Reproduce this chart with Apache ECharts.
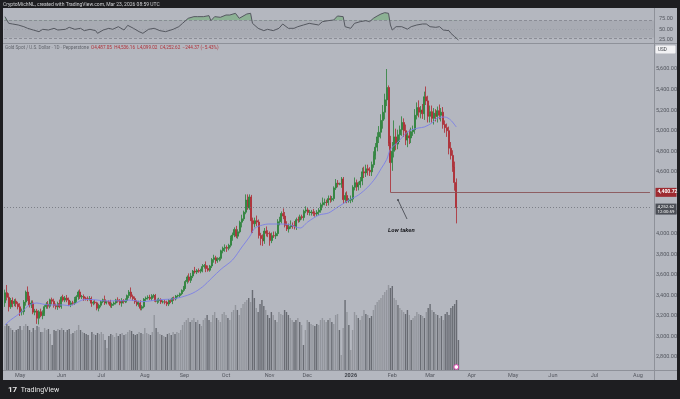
<!DOCTYPE html>
<html>
<head>
<meta charset="utf-8">
<script src="https://cdn.jsdelivr.net/npm/echarts@6/dist/echarts.min.js"></script>
<style>
html,body{margin:0;padding:0;background:#1e1e21;}
#chart{width:680px;height:399px;}
</style>
</head>
<body>
<div id="chart"></div>
<script>
// daily closes, Apr 21 2025 .. Mar 23 2026 (opens follow the previous close)
var firstOpen = 3327;
var closes = [
	3425,3380,3288,3349,3319,3343,3317,3288,3239,3241,
	3334,3431,3365,3306,3325,3236,3248,3177,3240,3202,
	3229,3289,3314,3294,3357,3342,3300,3288,3318,3289,
	3381,3353,3373,3353,3310,3326,3323,3354,3386,3432,
	3384,3388,3370,3369,3368,3368,3323,3333,3327,3274,
	3303,3338,3357,3326,3337,3336,3301,3313,3325,3355,
	3343,3324,3347,3339,3350,3397,3431,3387,3368,3337,
	3314,3326,3274,3289,3363,3373,3380,3368,3396,3398,
	3342,3348,3356,3335,3336,3332,3315,3348,3339,3372,
	3365,3393,3397,3416,3448,3476,3533,3578,3545,3587,
	3636,3626,3641,3634,3643,3679,3689,3660,3644,3685,
	3747,3764,3736,3749,3759,3833,3858,3865,3857,3886,
	3960,3985,4040,3975,4017,4110,4143,4208,4326,4251,
	4356,4125,4095,4125,4112,3982,3952,3930,4024,4002,
	4000,3932,3980,3977,4000,4115,4128,4195,4170,4080,
	4045,4067,4078,4077,4065,4135,4131,4164,4156,4218,
	4230,4205,4205,4210,4197,4190,4208,4228,4280,4300,
	4305,4303,4340,4330,4340,4444,4490,4480,4485,4530,
	4330,4370,4320,4325,4335,4450,4495,4455,4475,4510,
	4600,4590,4630,4615,4600,4670,4760,4840,4940,4985,
	5100,5180,5300,5420,4880,4690,4800,4940,4870,4960,
	5010,5080,5000,4910,4950,4930,4990,5010,5150,5225,
	5180,5200,5165,5330,5290,5140,5185,5120,5170,5140,
	5195,5150,5180,5060,5030,5000,4830,4760,4650,4496.99,
	4252.62
];
var upperWick = [
	30,75,40,25,30,20,25,20,35,30,
	20,15,55,30,25,25,20,20,15,30,
	25,15,20,30,10,20,25,20,20,40,
	10,25,20,30,25,20,20,30,15,15,
	25,15,20,15,20,25,20,15,20,10,
	15,15,10,40,10,15,20,15,15,10,
	25,20,25,15,20,10,20,45,20,20,
	15,20,25,15,10,15,20,25,15,15,
	15,20,20,15,15,20,15,15,15,10,
	15,10,10,10,10,15,15,15,35,30,
	10,40,15,20,15,25,15,40,30,10,
	15,30,20,20,15,10,15,30,20,15,
	20,25,20,35,25,15,40,15,55,55,
	25,20,30,30,50,25,25,40,30,45,
	30,20,30,40,20,25,35,20,50,40,
	40,30,50,30,45,20,30,20,20,15,
	35,20,25,20,30,20,20,20,20,50,
	35,25,30,30,25,15,40,30,10,20,
	20,30,40,20,35,20,50,30,30,40,
	40,50,40,40,30,30,40,40,45,60,
	60,70,60,180,20,70,90,160,80,50,
	40,60,40,60,40,60,40,40,60,50,
	70,40,60,50,100,50,60,60,50,40,
	40,60,40,50,40,40,40,60,50,50,
	39.17
];
var lowerWick = [
	40,30,45,20,35,25,30,25,40,35,
	30,35,20,25,30,20,30,55,60,15,
	35,30,20,25,20,30,20,25,30,15,
	20,15,20,20,15,25,20,15,25,30,
	20,20,25,20,25,20,35,20,15,20,
	30,20,15,20,15,25,20,25,15,15,
	15,20,35,20,15,20,25,20,20,20,
	20,25,20,20,15,20,15,15,20,20,
	10,25,20,20,15,20,20,20,15,25,
	20,15,15,20,15,15,15,20,20,25,
	20,15,20,15,20,20,20,35,15,15,
	20,30,30,20,20,20,25,35,35,20,
	20,30,20,20,25,15,50,20,20,20,
	20,121,90,35,40,30,66,50,30,30,
	35,50,25,20,30,25,35,30,30,20,
	20,35,20,30,25,30,25,20,20,30,
	20,25,30,30,25,25,20,30,25,20,
	25,35,30,30,20,25,20,30,10,40,
	40,30,25,20,30,30,30,40,35,30,
	40,50,40,50,40,40,30,40,40,60,
	60,80,70,60,30,289.28,80,60,60,50,
	70,60,60,50,70,60,50,40,40,40,
	50,60,50,60,40,60,60,40,60,50,
	60,40,60,40,50,60,60,40,50,80,
	153.6
];
var volumes = [
	44,46,44,42,40,38,40,41,44,40,
	44,46,44,40,38,42,40,44,43,38,
	38,42,40,41,36,25,40,39,41,40,
	42,40,38,40,41,36,37,39,40,45,
	40,38,37,36,35,30,38,36,35,37,
	36,38,36,30,22,34,36,35,33,37,
	34,36,37,35,36,38,40,39,36,35,
	36,38,37,36,42,37,36,35,38,55,
	42,38,36,35,34,33,36,37,35,38,
	36,38,37,40,45,48,50,52,48,50,
	52,48,50,46,44,50,52,55,50,48,
	55,58,52,50,48,56,58,55,52,50,
	58,60,65,60,55,62,66,68,70,72,
	68,80,72,62,58,66,70,64,60,55,
	52,58,55,50,48,58,56,55,60,58,
	55,52,50,48,50,52,48,45,25,40,
	50,48,46,45,44,46,45,50,52,50,
	48,50,52,48,46,55,56,40,15,42,
	70,58,45,20,40,58,55,52,50,54,
	60,56,55,52,54,60,65,68,70,72,
	75,78,80,85,82,84,72,70,65,62,
	60,58,56,60,55,50,52,54,58,56,
	55,54,52,58,62,66,60,58,56,55,
	52,54,50,56,58,55,62,64,66,70,
	30
];
// moving average: [bar index, value]
var maPoints = [
	[0,3111],[3,3160],[6,3199],[10,3257],[13,3306],[17,3325],[20,3315],[24,3306],[27,3306],
	[31,3306],[34,3299],[38,3325],[41,3354],[45,3360],[49,3354],[52,3347],[56,3345],[59,3347],
	[63,3347],[66,3354],[70,3345],[73,3338],[77,3345],[81,3354],[85,3360],[89,3364],[94,3383],
	[100,3422],[105,3481],[110,3568],[115,3655],[121,3743],[126,3869],[130,3967],[133,4054],
	[137,4083],[140,4093],[146,4093],[151,4088],[157,4054],[161,4113],[167,4180],[172,4200],
	[177,4258],[183,4326],[188,4375],[193,4453],[197,4540],[200,4630],[203,4720],[205,4820],
	[209,4890],[213,4970],[216,5007],[220,5027],[223,5036],[227,5075],[230,5124],[234,5133],
	[237,5104],[240,5036]
];
// RSI: [bar index, value]
var rsiPoints = [
	[0,78.8],[2,63.4],[4,61.9],[7,59.6],[10,55.7],[12,51.9],[15,48],[18,44.2],[20,49.6],[23,48],
	[26,51.9],[28,48],[32,49.6],[34,54.2],[37,49.6],[40,51.9],[42,46.5],[45,49.6],[48,46.5],[49,40.4],
	[52,48],[55,51.9],[57,49.6],[60,55.7],[63,48],[65,58.8],[68,51.9],[71,44.2],[73,40.4],[76,49.6],
	[79,51.9],[82,46.5],[85,44.2],[86,44.2],[89,49.6],[92,55.7],[94,63.4],[97,75],[100,78.8],[102,78.8],
	[105,78.8],[108,81.1],[109,69.5],[111,78.8],[114,77.3],[117,82.6],[119,82.6],[122,86.5],[124,75],
	[125,78.8],[128,84.9],[130,86.5],[131,63.4],[134,51.9],[137,46.5],[139,49.6],[142,46.5],[145,51.9],
	[147,61.9],[150,51.9],[153,51.9],[155,55.7],[158,59.6],[161,63.4],[163,61.9],[166,59.6],[168,67.2],
	[171,69.5],[174,71.1],[176,80.3],[177,82.6],[179,78.8],[180,55.7],[183,51.9],[185,63.4],[188,67.2],
	[191,69.5],[193,67.2],[195,75],[197,80.3],[199,84.9],[201,88],[203,86.5],[204,59.6],[205,48],
	[207,55.7],[208,51.9],[210,55.7],[213,50],[215,55.7],[218,59.6],[221,61.9],[223,61.9],[225,55.7],
	[228,54.2],[230,55.7],[232,48],[235,46.5],[236,40.4],[238,32.7],[240,25]
];
var timeLabels = ['May','Jun','Jul','Aug','Sep','Oct','Nov','Dec','2026','Feb','Mar','Apr','May','Jun','Jul','Aug'];
var priceTicks = [2800,3000,3200,3400,3600,3800,4000,4200,4400,4600,4800,5000,5200,5400,5600];
var rsiTicks = [25,50,75];
var lowLevel = 4400.72, lowIndex = 205;
var lastPrice = 4252.62, lastTimer = '12:00:59';

var upColor = '#2a8237', downColor = '#ad2830';
var bgColor = '#b4b7bf', sepColor = '#8e9199', axisText = '#54575f';
var font = 'Roboto, "DejaVu Sans", sans-serif';

// weekday slots, data + empty future space
var dates = [];
var d = new Date(Date.UTC(2025, 3, 21));
while (dates.length < 344) {
	var wd = d.getUTCDay();
	if (wd !== 0 && wd !== 6) dates.push(d.toISOString().slice(0, 10));
	d.setUTCDate(d.getUTCDate() + 1);
}
var monthStart = {};
var k = 0;
for (var i = 1; i < dates.length; i++) {
	if (dates[i].slice(5, 7) !== dates[i - 1].slice(5, 7)) monthStart[i] = timeLabels[k++];
}

var candles = [], vols = [];
var prev = firstOpen;
for (var i = 0; i < closes.length; i++) {
	var o = prev, c = closes[i];
	candles.push([o, c, Math.min(o, c) - lowerWick[i], Math.max(o, c) + upperWick[i]]);
	vols.push({value: volumes[i], itemStyle: {color: c >= o ? '#93969d' : '#696c73'}});
	prev = c;
}

function fmt(v) {
	return v.toLocaleString('en-US', {minimumFractionDigits: 2, maximumFractionDigits: 2});
}

var myChart = echarts.init(document.getElementById('chart'));
var gridL = 4, gridR = 26;
var hidden = {show: false};
function xCat(gi, showLabels) {
	return {
		type: 'category', gridIndex: gi, data: dates, boundaryGap: true,
		axisLine: hidden, axisTick: hidden, splitLine: hidden,
		axisLabel: showLabels ? {
			show: true, margin: 3, fontSize: 5.5, color: axisText, fontFamily: font,
			interval: function(idx) { return monthStart[idx] !== undefined; },
			formatter: function(v, idx) {
				var t = monthStart[idx] || '';
				return t === '2026' ? '{b|2026}' : t;
			},
			rich: {b: {fontWeight: 'bold', fontSize: 5.5, color: '#3f4249', fontFamily: font}}
		} : hidden
	};
}

var option = {
	backgroundColor: '#1e1e21',
	animation: false,
	grid: [
		{left: gridL, right: gridR, top: 7.45, height: 43.4},
		{left: gridL, right: gridR, top: 27.86, height: 349.71},
		{left: gridL, right: gridR, top: 270, height: 100}
	],
	xAxis: [xCat(0, false), xCat(1, false), xCat(2, true)],
	yAxis: [
		{
			type: 'value', gridIndex: 0, min: 0, max: 100, interval: 25, position: 'right',
			axisLine: hidden, axisTick: hidden, splitLine: hidden,
			axisLabel: {
				margin: 5, fontSize: 5.5, color: axisText, fontFamily: font,
				formatter: function(v) { return rsiTicks.indexOf(v) >= 0 ? fmt(v) : ''; }
			}
		},
		{
			type: 'value', gridIndex: 1, min: 2600, max: 6000, interval: 200, position: 'right',
			axisLine: hidden, axisTick: hidden, splitLine: hidden,
			axisLabel: {
				margin: 5, fontSize: 5.5, color: axisText, fontFamily: font,
				formatter: function(v) { return priceTicks.indexOf(v) >= 0 ? fmt(v) : ''; }
			}
		},
		{
			type: 'value', gridIndex: 2, min: 0, max: 100,
			axisLine: hidden, axisTick: hidden, splitLine: hidden, axisLabel: hidden
		}
	],
	series: [
		{
			name: 'rsiFill', type: 'line', xAxisIndex: 0, yAxisIndex: 0, data: rsiPoints,
			symbol: 'none', lineStyle: {width: 0}, z: 2,
			areaStyle: {origin: 70, color: 'rgba(76,170,80,0.55)'}
		},
		{
			name: 'rsiBand', type: 'line', xAxisIndex: 0, yAxisIndex: 0, data: [], z: 3,
			markArea: {
				silent: true, z: 3,
				data: [
					[{yAxis: 30, itemStyle: {color: '#a8abb3'}}, {yAxis: 70}],
					[{yAxis: 18.1, itemStyle: {color: bgColor}}, {yAxis: 30}]
				]
			},
			markLine: {
				silent: true, symbol: ['none', 'none'], label: hidden, z: 3,
				data: [
					{yAxis: 70, lineStyle: {color: '#80838b', type: [3, 2], width: 0.8}},
					{yAxis: 50, lineStyle: {color: '#999ca4', type: [1, 2], width: 0.8}},
					{yAxis: 30, lineStyle: {color: '#80838b', type: [3, 2], width: 0.8}}
				]
			}
		},
		{
			name: 'RSI', type: 'line', xAxisIndex: 0, yAxisIndex: 0, data: rsiPoints,
			symbol: 'none', z: 4, lineStyle: {color: '#555860', width: 1}
		},
		{
			name: 'Volume', type: 'bar', xAxisIndex: 2, yAxisIndex: 2, data: vols,
			barWidth: 1.4, z: 1
		},
		{
			name: 'Gold', type: 'candlestick', xAxisIndex: 1, yAxisIndex: 1, data: candles,
			barWidth: 1.5, z: 3,
			itemStyle: {color: upColor, color0: downColor, borderColor: upColor, borderColor0: downColor, borderWidth: 0.8},
			markLine: {
				silent: true, symbol: ['none', 'none'], label: hidden,
				data: [
					{yAxis: lastPrice, lineStyle: {color: '#6f727a', type: [1, 2], width: 0.8}},
					[
						{coord: [lowIndex, lowLevel], lineStyle: {color: '#8a5457', type: 'solid', width: 0.9}},
						{coord: [dates.length - 1, lowLevel]}
					]
				]
			}
		},
		{
			name: 'MA', type: 'line', xAxisIndex: 1, yAxisIndex: 1, data: maPoints,
			symbol: 'none', smooth: 0.3, z: 4, lineStyle: {color: '#7c7fe6', width: 0.9}
		}
	]
};
myChart.setOption(option);

var yLow = myChart.convertToPixel({yAxisIndex: 1}, lowLevel);
var yLast = myChart.convertToPixel({yAxisIndex: 1}, lastPrice);
var xLast = myChart.convertToPixel({xAxisIndex: 1}, closes.length - 1);
var yBottom = myChart.convertToPixel({yAxisIndex: 2}, 0);

myChart.setOption({
	graphic: {elements: [
		{type: 'rect', z: -10, shape: {x: 3, y: 8, width: 674, height: 372}, style: {fill: bgColor}},
		{type: 'line', z: 50, shape: {x1: 3, y1: 43.5, x2: 677, y2: 43.5}, style: {stroke: sepColor, lineWidth: 1}},
		{type: 'line', z: 50, shape: {x1: 654.5, y1: 8, x2: 654.5, y2: 380}, style: {stroke: sepColor, lineWidth: 1}},
		{type: 'line', z: 50, shape: {x1: 3, y1: 370.5, x2: 677, y2: 370.5}, style: {stroke: sepColor, lineWidth: 1}},
		{type: 'text', z: 50, x: 3, y: 2, style: {text: 'CryptoMichNL, created with TradingView.com, Mar 23, 2026 08:59 UTC', fill: '#cfd0d3', fontSize: 5, fontFamily: font}},
		{type: 'text', z: 50, x: 5, y: 45.5, style: {
			text: '{g|Gold Spot / U.S. Dollar · 1D · Pepperstone}  {r|O4,487.05  H4,536.16  L4,099.02  C4,252.62  −244.37 (−5.43%)}',
			fontSize: 4.6, fontFamily: font,
			rich: {g: {fill: '#62656d', fontSize: 4.6, fontFamily: font}, r: {fill: '#b03038', fontSize: 4.6, fontFamily: font}}
		}},
		{type: 'rect', z: 50, shape: {x: 655.5, y: 45.5, width: 20, height: 8, r: 1}, style: {fill: '#f2f2f4'}},
		{type: 'text', z: 51, x: 658, y: 47.3, style: {text: 'USD', fill: '#3a3d44', fontSize: 4.6, fontFamily: font}},
		{type: 'rect', z: 50, shape: {x: 655.5, y: yLow - 4.5, width: 21, height: 9}, style: {fill: '#9e2a30'}},
		{type: 'text', z: 51, x: 657.5, y: yLow - 2.8, style: {text: fmt(lowLevel), fill: '#ffffff', fontSize: 5, fontWeight: 'bold', fontFamily: font}},
		{type: 'rect', z: 50, shape: {x: 655.5, y: yLast - 4, width: 21, height: 11}, style: {fill: '#4c4f57'}},
		{type: 'text', z: 51, x: 657.5, y: yLast - 2.8, style: {text: fmt(lastPrice) + '\n' + lastTimer, fill: '#ffffff', fontSize: 4.4, lineHeight: 5, fontFamily: font}},
		{type: 'line', z: 50, shape: {x1: 407, y1: 219, x2: 398, y2: 200}, style: {stroke: '#3c3f46', lineWidth: 0.8}},
		{type: 'circle', z: 50, shape: {cx: 398, cy: 200, r: 0.9}, style: {fill: '#3c3f46'}},
		{type: 'text', z: 50, x: 388, y: 227, style: {text: 'Low taken', fill: '#1b1c20', fontSize: 6, fontStyle: 'italic', fontWeight: 'bold', fontFamily: font}},
		{type: 'circle', z: 50, shape: {cx: xLast, cy: yBottom - 3, r: 2.4}, style: {fill: '#ffffff', stroke: '#d63fa8', lineWidth: 1}},
		{type: 'text', z: 50, x: 8, y: 386, style: {text: '{l|17}  TradingView', fill: '#e6e6e6', fontSize: 7, fontFamily: font,
			rich: {l: {fill: '#e6e6e6', fontSize: 8, fontWeight: 'bold', fontFamily: font}}}}
	]}
});
</script>
</body>
</html>
